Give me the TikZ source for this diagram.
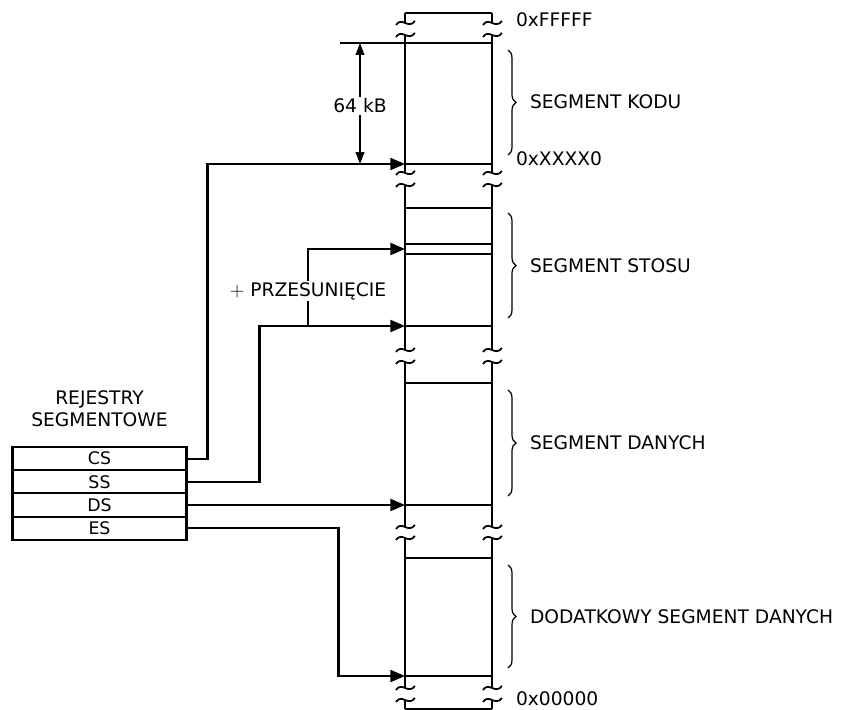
\documentclass[tikz,border=0pt]{standalone}
\usepackage{fontspec}
\setmainfont{DejaVu Sans}
\usetikzlibrary{arrows.meta,decorations.pathreplacing,positioning}

\begin{document}
\begin{tikzpicture}[x=.75pt,y=-.75pt,line width=1.6pt,font=\fontsize{14}{16.5}\selectfont,
  reg/.style={draw,minimum width=130.5pt,minimum height=17.4pt,inner sep=0pt,outer sep=0pt,font=\fontsize{13}{14}\selectfont},
  ptr/.style={-{Triangle[length=11pt,width=9pt]}},
  dim/.style={{Triangle[length=9pt,width=6.5pt]}-{Triangle[length=9pt,width=6.5pt]},line width=1.4pt},
  brc/.style={decorate,decoration={brace,amplitude=6pt},line width=.9pt},
  lbl/.style={anchor=west,inner sep=0pt}]
\useasboundingbox (0,0) rectangle (846,710);
\foreach \a/\b in {13/23,35/173,185/350,362/527,538/688,700/709}{\foreach \x in {405,492}{\draw (\x,\a)--(\x,\b);}}
\foreach \y in {23,35,173,185,350,362,527,538,688,700}{\foreach \x in {405,492}{\draw[line width=1.3pt] (\x-9,\y+2) .. controls (\x-3,\y-7) and (\x+3,\y+7) .. (\x+10,\y-2);}}
\foreach \y in {13,164,208,244,254,326,383,505,558,676,709}{\draw (405,\y)--(492,\y);}
\draw (340,43)--(492,43);
\coordinate (kod) at (405,164);\coordinate (stos) at (405,326);\coordinate (off) at (405,249);
\coordinate (ddane) at (405,676);\coordinate (rozw) at (308,326);
\coordinate (wg) at (360,43);\coordinate (wd) at (360,164);
\node[reg] (cs) at (99.5,458.6){CS};
\node[reg,below=0pt of cs] (ss){SS};
\node[reg,below=0pt of ss] (ds){DS};
\node[reg,below=0pt of ds] (es){ES};
\node[align=center] (rej) at (99.5,409){REJESTRY\\SEGMENTOWE};
\coordinate (dane) at (ds.east -| kod);
\draw[ptr] (cs.east)--++(21,0) |- (kod);
\draw[ptr] (ss.east)--++(73,0) |- (stos);
\draw[ptr] (rozw) |- (off);
\draw[ptr] (ds.east)--(dane);
\draw[ptr] (es.east)--++(152,0) |- (ddane);
\node[fill=white,inner sep=1pt] (przes) at (308,291){$+$ PRZESUNIĘCIE};
\draw[dim] (wg)--(wd);
\node[fill=white,inner sep=1pt] (wym) at (360,106){64 kB};
\draw[brc] (508,50)--(508,155);\node[lbl] (kodu) at (529,102){SEGMENT KODU};
\draw[brc] (508,213)--(508,318);\node[lbl] (stosu) at (529,266){SEGMENT STOSU};
\draw[brc] (508,390)--(508,496);\node[lbl] (danych) at (529,443){SEGMENT DANYCH};
\draw[brc] (508,565)--(508,668);\node[lbl] (ddanych) at (529,617){DODATKOWY SEGMENT DANYCH};
\node[lbl] (a1) at (515,20){0xFFFFF};
\node[lbl] (a2) at (515,159){0xXXXX0};
\node[lbl] (a3) at (515,699){0x00000};
\end{tikzpicture}
\end{document}
